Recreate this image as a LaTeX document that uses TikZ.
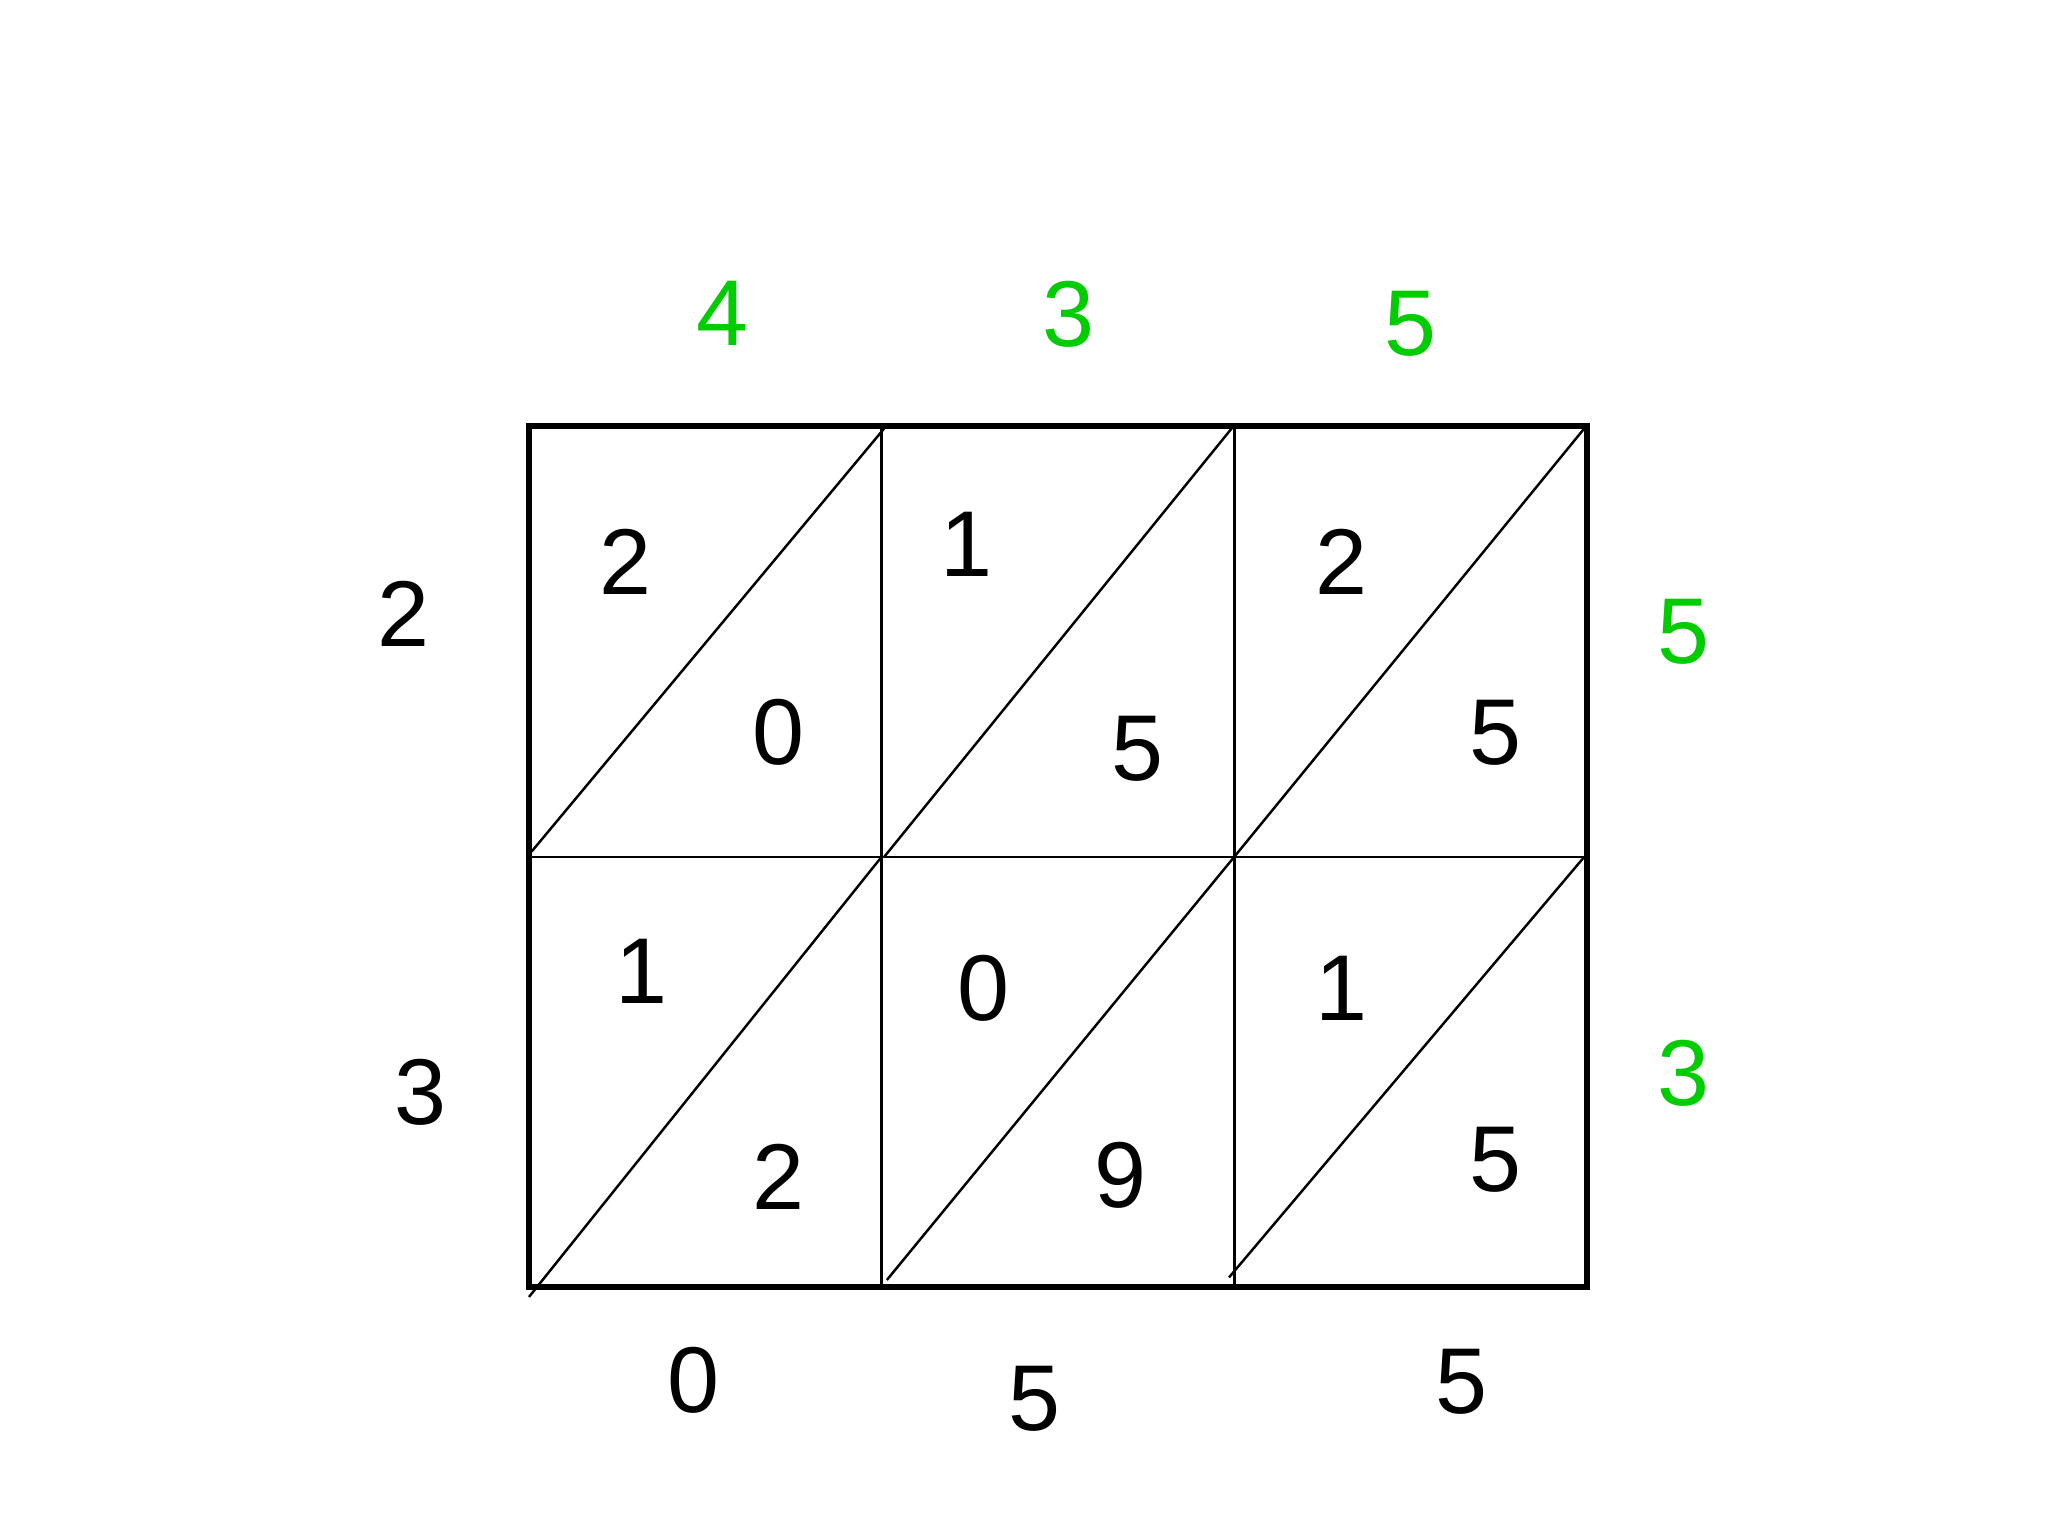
\documentclass[tikz,border=0pt]{standalone}
\usepackage{fontspec}
\setmainfont{Liberation Sans}
\definecolor{digitgreen}{RGB}{0,204,0}
\begin{document}
\begin{tikzpicture}[x=0.0130612cm, y=-0.0130612cm]
    \tikzset{digit/.style = {font=\fontsize{26.6}{32}\selectfont, inner sep=0pt}}
    \tikzset{factor/.style = {digit, text=digitgreen}}
    \tikzset{frame/.style = {line width=1.7pt}}
    \tikzset{grid/.style = {line width=0.7pt}}
    \useasboundingbox (0,0) rectangle (1568,1176);
    % corners of the lattice
    \coordinate (nw) at (405,326);
    \coordinate (se) at (1215,985);
    % inner lines
    \draw[grid] (675,326) -- (675,985);
    \draw[grid] (945,326) -- (945,985);
    \draw[grid] (405,656) -- (1215,656);
    % diagonals, top row
    \draw[grid] (407,652) -- (677,328);
    \draw[grid] (677,656) -- (943,328);
    \draw[grid] (945,656) -- (1213,328);
    % diagonals, bottom row
    \draw[grid] (405,993) -- (675,656);
    \draw[grid] (679,980) -- (945,656);
    \draw[grid] (941,978) -- (1213,656);
    \draw[frame] (nw) rectangle (se);
    % factors
    \node[factor] (t1) at (553,240) {4};
    \node[factor] (t2) at (818,241) {3};
    \node[factor] (t3) at (1080,248) {5};
    \node[factor] (r1) at (1289,484) {5};
    \node[factor] (r2) at (1289,822) {3};
    \node[digit] (l1) at (309,470) {2};
    \node[digit] (l2) at (322,836) {3};
    % partial products, top row
    \node[digit] (a1) at (479,430) {2};
    \node[digit] (a2) at (596,561) {0};
    \node[digit] (b1) at (740,417) {1};
    \node[digit] (b2) at (871,573) {5};
    \node[digit] (c1) at (1027,430) {2};
    \node[digit] (c2) at (1145,561) {5};
    % partial products, bottom row
    \node[digit] (d1) at (491,744) {1};
    \node[digit] (d2) at (596,901) {2};
    \node[digit] (e1) at (753,757) {0};
    \node[digit] (e2) at (858,900) {9};
    \node[digit] (f1) at (1027,757) {1};
    \node[digit] (f2) at (1145,888) {5};
    % result
    \node[digit] (s1) at (531,1057) {0};
    \node[digit] (s2) at (792,1071) {5};
    \node[digit] (s3) at (1119,1058) {5};
\end{tikzpicture}
\end{document}
